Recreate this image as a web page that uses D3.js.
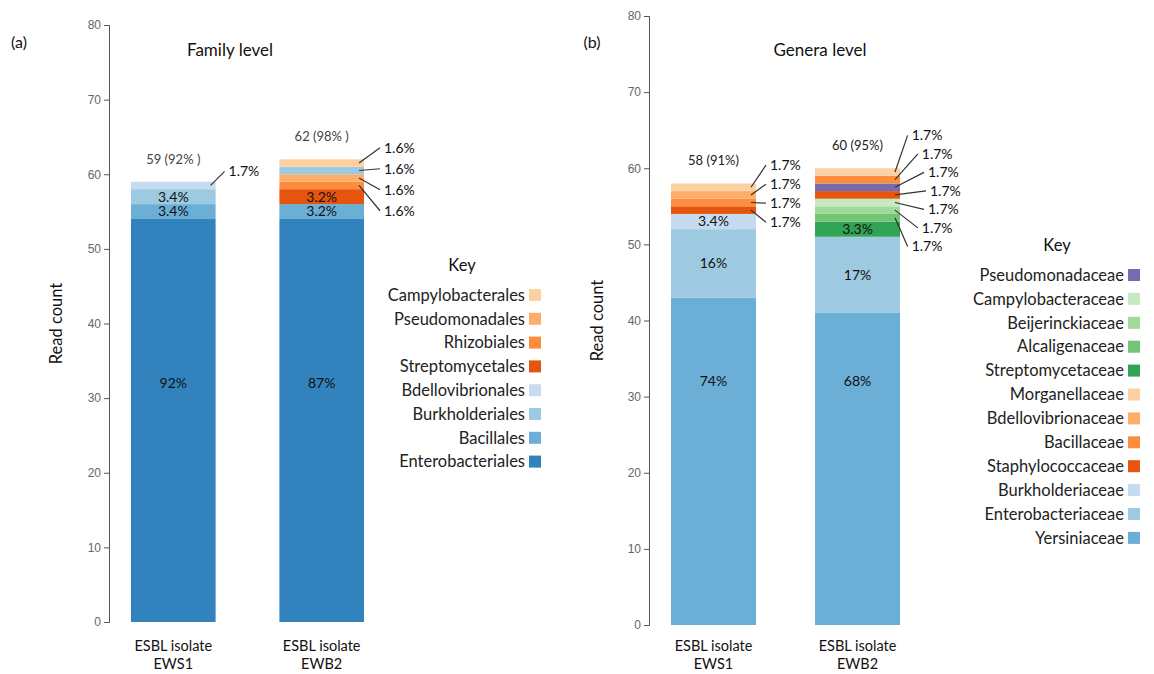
<!DOCTYPE html>
<html>
<head>
<meta charset="utf-8">
<style>
  body { margin: 0; background: #fff; }
  svg { display: block; font-family: Lato, "Open Sans", sans-serif; }
  .tick text { font-family: "Liberation Sans", Arial, sans-serif; fill: #666; font-size: 12px; }
  .tick line, .domain { stroke: #555; }
</style>
</head>
<body>
<svg width="1154" height="674"></svg>
<script src="https://d3js.org/d3.v7.min.js"></script>
<script>
// data: sample names, stacking order (bottom -> top) and read counts
var samples = ["EWS1", "EWB2"];
var yTicks = [0, 10, 20, 30, 40, 50, 60, 70, 80];

var familyKeys = ["Enterobacteriales", "Bacillales", "Streptomycetales", "Rhizobiales",
  "Pseudomonadales", "Burkholderiales", "Bdellovibrionales", "Campylobacterales"];
var familyEWS1 = [54, 2, 0, 0, 0, 2, 1, 0];
var familyEWB2 = [54, 2, 2, 1, 1, 1, 0, 1];
var familyColors = ["#3182bd", "#6baed6", "#e6550d", "#fd8d3c", "#fdae6b", "#9ecae1", "#c6dbef", "#fdd0a2"];
var familyLegend = ["Campylobacterales", "Pseudomonadales", "Rhizobiales", "Streptomycetales",
  "Bdellovibrionales", "Burkholderiales", "Bacillales", "Enterobacteriales"];
var familyTotals = ["59 (92% )", "62 (98% )"];

var generaKeys = ["Yersiniaceae", "Enterobacteriaceae", "Burkholderiaceae", "Streptomycetaceae",
  "Alcaligenaceae", "Beijerinckiaceae", "Campylobacteraceae", "Staphylococcaceae",
  "Pseudomonadaceae", "Bacillaceae", "Bdellovibrionaceae", "Morganellaceae"];
var generaEWS1 = [43, 9, 2, 0, 0, 0, 0, 1, 0, 1, 1, 1];
var generaEWB2 = [41, 10, 0, 2, 1, 1, 1, 1, 1, 1, 0, 1];
var generaColors = ["#6baed6", "#9ecae1", "#c6dbef", "#31a354", "#74c476", "#a1d99b", "#c7e9c0",
  "#e6550d", "#756bb1", "#fd8d3c", "#fdae6b", "#fdd0a2"];
var generaLegend = ["Pseudomonadaceae", "Campylobacteraceae", "Beijerinckiaceae", "Alcaligenaceae",
  "Streptomycetaceae", "Morganellaceae", "Bdellovibrionaceae", "Bacillaceae", "Staphylococcaceae",
  "Burkholderiaceae", "Enterobacteriaceae", "Yersiniaceae"];
var generaTotals = ["58 (91%)", "60 (95%)"];

var svg = d3.select("svg");

function pct(v, total) {
  var p = v / total * 100;
  return (p >= 10 ? Math.round(p) : p.toFixed(1)) + "%";
}

function drawPanel(opt) {
  var g = svg.append("g");
  var y = d3.scaleLinear().domain([0, 80]).range([opt.yBottom, opt.yTop]);
  var x = d3.scaleBand().domain(samples).range(opt.band).paddingInner(opt.pad).paddingOuter(0);
  var color = d3.scaleOrdinal().domain(opt.keys).range(opt.colors);

  var table = samples.map(function (s, i) {
    var row = { sample: s };
    opt.keys.forEach(function (k, j) { row[k] = opt.values[i][j]; });
    return row;
  });
  var series = d3.stack().keys(opt.keys)(table);

  // axis
  g.append("g")
    .attr("transform", "translate(" + opt.axisX + ",0)")
    .call(d3.axisLeft(y).tickValues(yTicks).tickSize(5).tickSizeOuter(5).tickPadding(3));

  g.append("text")
    .attr("transform", "translate(" + opt.ylabX + "," + ((opt.yTop + opt.yBottom) / 2) + ") rotate(-90)")
    .attr("text-anchor", "middle").attr("font-size", 16.5).attr("fill", "#111")
    .text("Read count");

  g.append("text").attr("x", opt.titleX).attr("y", 56).attr("text-anchor", "middle")
    .attr("font-size", 17).attr("fill", "#111").text(opt.title);
  g.append("text").attr("x", opt.tagX).attr("y", 48).attr("text-anchor", "middle")
    .attr("font-size", 16).attr("fill", "#111").text(opt.tag);

  // bars
  g.selectAll("g.layer").data(series).enter().append("g")
    .attr("class", "layer")
    .attr("fill", function (d) { return color(d.key); })
    .selectAll("rect").data(function (d) { return d; }).enter().append("rect")
    .attr("x", function (d) { return x(d.data.sample); })
    .attr("width", x.bandwidth())
    .attr("y", function (d) { return y(d[1]); })
    .attr("height", function (d) { return y(d[0]) - y(d[1]); });

  // labels
  samples.forEach(function (s, i) {
    var total = d3.sum(opt.values[i]);
    var segs = [];
    series.forEach(function (ser) {
      var d = ser[i];
      var v = d[1] - d[0];
      if (v > 0) segs.push({ v: v, lo: d[0], hi: d[1] });
    });
    var bx = x(s), bw = x.bandwidth();

    segs.filter(function (d) { return d.v >= 2; }).forEach(function (d) {
      g.append("text")
        .attr("x", bx + bw / 2)
        .attr("y", y(Math.max((d.lo + d.hi) / 2, 32)))
        .attr("dy", "0.35em").attr("text-anchor", "middle")
        .attr("font-size", 14).attr("fill", "#111")
        .text(pct(d.v, total));
    });

    var small = segs.filter(function (d) { return d.v < 2; }).reverse();
    var lay = opt.leaders[i];
    var n = small.length;
    var meanY = d3.mean(small, function (d) { return y((d.lo + d.hi) / 2); });
    small.forEach(function (d, j) {
      var off = j - (n - 1) / 2;
      var ly = meanY + lay.shift + off * lay.spacing;
      var half = (n - 1) / 2 + 0.5;
      var lx = bx + bw + lay.dx + lay.bulge * (1 - Math.pow(off / half, 2));
      g.append("line")
        .attr("x1", bx + bw - 5).attr("y1", y((d.lo + d.hi) / 2))
        .attr("x2", lx - 4).attr("y2", ly)
        .attr("stroke", "#333").attr("stroke-width", 1.2);
      g.append("text").attr("x", lx).attr("y", ly).attr("dy", "0.35em")
        .attr("font-size", 14).attr("fill", "#111")
        .text(pct(d.v, total));
    });

    g.append("text")
      .attr("x", bx + bw / 2).attr("y", y(total + 3))
      .attr("dy", "0.35em").attr("text-anchor", "middle")
      .attr("font-size", 13).attr("fill", opt.totalColor)
      .text(opt.totals[i]);

    var cat = g.append("text").attr("text-anchor", "middle")
      .attr("font-size", 14.5).attr("fill", "#111");
    cat.append("tspan").attr("x", bx + bw / 2).attr("y", 651).text("ESBL isolate");
    cat.append("tspan").attr("x", bx + bw / 2).attr("y", 669).text(s);
  });

  // legend
  var lg = g.append("g");
  lg.append("text").attr("x", opt.keyX).attr("y", opt.legTop - 30).attr("dy", "0.35em")
    .attr("text-anchor", "middle").attr("font-size", 16.5).attr("fill", "#111").text("Key");
  var row = lg.selectAll("g.item").data(opt.legend).enter().append("g")
    .attr("transform", function (d, j) { return "translate(" + opt.legX + "," + (opt.legTop + j * opt.legStep) + ")"; });
  row.append("rect").attr("x", 4).attr("y", -6).attr("width", 12).attr("height", 12)
    .attr("fill", function (d) { return color(d); });
  row.append("text").attr("x", 0).attr("dy", "0.35em").attr("text-anchor", "end")
    .attr("font-size", 16.5).attr("fill", "#222").text(function (d) { return d; });
}

drawPanel({
  keys: familyKeys, values: [familyEWS1, familyEWB2], colors: familyColors,
  legend: familyLegend, totals: familyTotals, totalColor: "#444",
  axisX: 109, yTop: 25, yBottom: 622, band: [131, 364], pad: 0.43,
  ylabX: 62, title: "Family level", titleX: 230, tag: "(a)", tagX: 19,
  keyX: 462, legX: 525, legTop: 295, legStep: 23.8,
  leaders: [{ dx: 13, bulge: 0, spacing: 20, shift: -14 },
            { dx: 20, bulge: 0, spacing: 21, shift: 5 }]
});

drawPanel({
  keys: generaKeys, values: [generaEWS1, generaEWB2], colors: generaColors,
  legend: generaLegend, totals: generaTotals, totalColor: "#222",
  axisX: 649, yTop: 16, yBottom: 625, band: [671, 900], pad: 0.41,
  ylabX: 603, title: "Genera level", titleX: 820, tag: "(b)", tagX: 592,
  keyX: 1057, legX: 1124, legTop: 275, legStep: 23.9,
  leaders: [{ dx: 14, bulge: 0, spacing: 19, shift: -5 },
            { dx: 5, bulge: 25, spacing: 18.5, shift: -4 }]
});
</script>
</body>
</html>
